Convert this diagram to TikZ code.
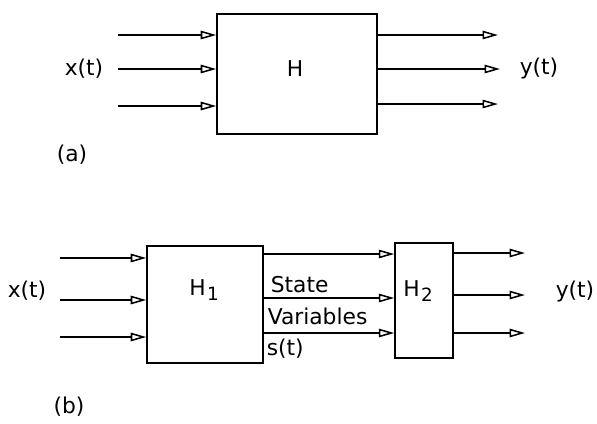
\documentclass[tikz,border=0pt]{standalone}
\usepackage{fontspec}
\setmainfont{DejaVu Sans}
\usetikzlibrary{positioning,arrows.meta}

\newcommand{\lowsub}[1]{\hspace{1pt}\raisebox{-0.45ex}{\fontsize{13}{13}\selectfont #1}}

\begin{document}
\begin{tikzpicture}[x=0.025cm, y=-0.025cm, line width=1.1pt,
    font=\fontsize{15.5}{18}\selectfont,
    sig/.style={-{Triangle[open, length=11pt, width=6pt]}},
    blk/.style={draw, inner sep=0pt}]
    \useasboundingbox (0,0) rectangle (597,423);

    % (a) single block
    \node [blk, minimum width=4cm, minimum height=3cm] (h) at (297,74) {};
    \node (ht) at (295,69) {H};
    \coordinate (i1) at (118,35);
    \coordinate (i2) at (118,69);
    \coordinate (i3) at (118,106);
    \coordinate (o1) at (498,35);
    \coordinate (o2) at (500,69);
    \coordinate (o3) at (498,104);
    \node (x) at (84,69) {x(t)};
    \node (y) at (539,68) {y(t)};
    \node (la) at (72,155) {(a)};

    \draw [sig] (i1) -- (i1 -| h.west);
    \draw [sig] (i2) -- (i2 -| h.west);
    \draw [sig] (i3) -- (i3 -| h.west);
    \draw [sig] (h.east |- o1) -- (o1);
    \draw [sig] (h.east |- o2) -- (o2);
    \draw [sig] (h.east |- o3) -- (o3);

    % (b) two blocks with state variables
    \node [blk, minimum width=2.9cm, minimum height=2.925cm] (h1) at (205,304.5) {};
    \node [blk, minimum width=1.45cm, minimum height=2.875cm] (h2) at (424,300.5) {};
    \node (h1t) at (204,290) {H\lowsub{1}};
    \node (h2t) at (418,291) {H\lowsub{2}};
    \coordinate (j1) at (60,258);
    \coordinate (j2) at (60,300);
    \coordinate (j3) at (60,337);
    \coordinate (s1) at (330,254);
    \coordinate (s2) at (330,298);
    \coordinate (s3) at (330,333);
    \coordinate (k1) at (525,253);
    \coordinate (k2) at (525,295);
    \coordinate (k3) at (525,333);
    \node (xb) at (27,291) {x(t)};
    \node (yb) at (575,291) {y(t)};
    \node [anchor=base west, inner sep=0pt] (st) at (270,292) {State};
    \node [anchor=base west, inner sep=0pt] (va) at (267,324) {Variables};
    \node [anchor=base west, inner sep=0pt] (sv) at (266,355) {s(t)};
    \node (lb) at (69,407) {(b)};

    \draw [sig] (j1) -- (j1 -| h1.west);
    \draw [sig] (j2) -- (j2 -| h1.west);
    \draw [sig] (j3) -- (j3 -| h1.west);
    \draw [sig] (h1.east |- s1) -- (h2.west |- s1);
    \draw [sig] (h1.east |- s2) -- (h2.west |- s2);
    \draw [sig] (h1.east |- s3) -- (h2.west |- s3);
    \draw [sig] (h2.east |- k1) -- (k1);
    \draw [sig] (h2.east |- k2) -- (k2);
    \draw [sig] (h2.east |- k3) -- (k3);

\end{tikzpicture}
\end{document}
